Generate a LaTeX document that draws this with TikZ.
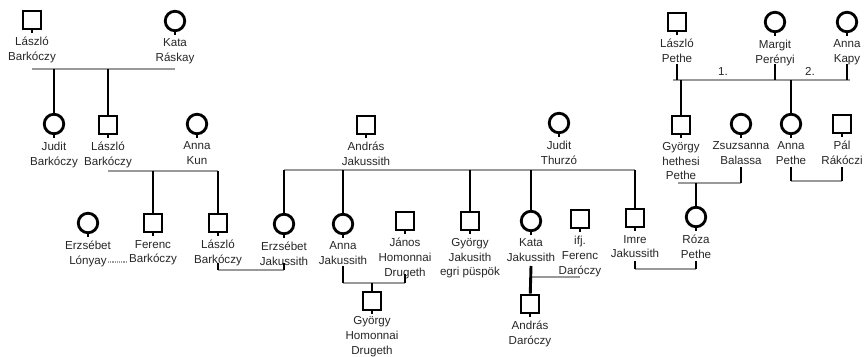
\documentclass[tikz,border=0pt]{standalone}
\usepackage{fontspec}
\setmainfont{Liberation Sans}
\usetikzlibrary{positioning,calc}

\begin{document}
\begin{tikzpicture}[x=1pt,y=-1pt,node distance=6.5pt,
    every node/.style={inner sep=0pt},
    stem/.style={append after command={(\tikzlastnode.south) edge[draw,line width=1.4pt] +(0,3)}},
    male/.style={draw,line width=2.8pt,minimum size=18pt,stem},
    female/.style={draw,circle,line width=2.8pt,minimum size=19.5pt,stem},
    persname/.style={align=center,font=\fontsize{11.6}{14.8}\selectfont,text=black!85,execute at begin node=\strut},
    desc/.style={line width=2.9pt},
    marr/.style={line width=2.4pt,black!40}]
    \useasboundingbox (0,0) rectangle (864,356);
    % first generation
    \node[male] (lb1) at (32,20) {};
    \node[persname,below=of lb1] (lb1n) {László\\Barkóczy};
    \node[female] (kr) at (175,21) {};
    \node[persname,below=of kr] (krn) {Kata\\Ráskay};
    \node[male] (lp) at (677,22) {};
    \node[persname,below=of lp] (lpn) {László\\Pethe};
    \node[female] (mp) at (775,22) {};
    \node[persname,below=of mp] (mpn) {Margit\\Perényi};
    \node[female] (akp) at (847,22) {};
    \node[persname,below=of akp] (akpn) {Anna\\Kapy};
    % second generation
    \node[female] (jb) at (54,124) {};
    \node[persname,below=of jb] (jbn) {Judit\\Barkóczy};
    \node[male] (lb2) at (108,125) {};
    \node[persname,below=of lb2] (lb2n) {László\\Barkóczy};
    \node[female] (ak) at (197,124) {};
    \node[persname,below=of ak] (akn) {Anna\\Kun};
    \node[male] (aj) at (366,125) {};
    \node[persname,below=of aj] (ajn) {András\\Jakussith};
    \node[female] (jt) at (559,123) {};
    \node[persname,below=of jt] (jtn) {Judit\\Thurzó};
    \node[male] (gp) at (681,125) {};
    \node[persname,below=of gp] (gpn) {György\\hethesi\\Pethe};
    \node[female] (zb) at (741,124) {};
    \node[persname,below=of zb] (zbn) {Zsuzsanna\\Balassa};
    \node[female] (ap) at (791,124) {};
    \node[persname,below=of ap] (apn) {Anna\\Pethe};
    \node[male] (pr) at (842,124) {};
    \node[persname,below=of pr] (prn) {Pál\\Rákóczi};
    % third generation
    \node[female] (el) at (88,223) {};
    \node[persname,below=of el] (eln) {Erzsébet\\Lónyay};
    \node[male] (fb) at (153,223) {};
    \node[persname,below=of fb] (fbn) {Ferenc\\Barkóczy};
    \node[male] (lb3) at (218,223) {};
    \node[persname,below=of lb3] (lb3n) {László\\Barkóczy};
    \node[female] (ej) at (284,224) {};
    \node[persname,below=of ej] (ejn) {Erzsébet\\Jakussith};
    \node[female] (anj) at (343,224) {};
    \node[persname,below=of anj] (anjn) {Anna\\Jakussith};
    \node[male] (jhd) at (405,221) {};
    \node[persname,below=of jhd] (jhdn) {János\\Homonnai\\Drugeth};
    \node[male] (gj) at (470,221) {};
    \node[persname,below=of gj] (gjn) {György\\Jakusith\\egri püspök};
    \node[female] (kj) at (531,221) {};
    \node[persname,below=of kj] (kjn) {Kata\\Jakussith};
    \node[male] (fd) at (580,219) {};
    \node[persname,below=of fd] (fdn) {ifj.\\Ferenc\\Daróczy};
    \node[male] (ij) at (635,218) {};
    \node[persname,below=of ij] (ijn) {Imre\\Jakussith};
    \node[female] (rp) at (696,217) {};
    \node[persname,below=of rp] (rpn) {Róza\\Pethe};
    % fourth generation
    \node[male] (ghd) at (372,301) {};
    \node[persname,below=5pt of ghd] (ghdn) {György\\Homonnai\\Drugeth};
    \node[male] (ad) at (530,304) {};
    \node[persname,below=of ad] (adn) {András\\Daróczy};

    % Barkóczy and Ráskay
    \coordinate (m1) at (0,69);
    \draw[marr] (lb1 |- m1) -- (kr |- m1);
    \draw[desc] (jb |- m1) -- (jb);
    \draw[desc] (lb2 |- m1) -- (lb2);
    % Barkóczy and Kun
    \coordinate (m2) at (0,171);
    \draw[marr] (lb2 |- m2) -- (lb3 |- m2);
    \draw[desc] (fb |- m2) -- (fb);
    \draw[desc] (lb3 |- m2) -- (lb3);
    % Jakussith and Thurzó
    \coordinate (m3) at (0,170);
    \draw[marr] (ej |- m3) -- (ij |- m3);
    \foreach \c in {ej,anj,gj,kj,ij}
        \draw[desc] (\c |- m3) -- (\c);
    % Pethe, Perényi and Kapy
    \coordinate (m4) at (0,80);
    \coordinate (t4) at (0,64);
    \draw[marr] ($(lp |- m4)+(-4,0)$) -- ($(akp |- m4)+(3,0)$);
    \foreach \c in {lp,mp,akp}
        \draw[desc] (\c |- t4) -- (\c |- m4);
    \node[persname] (one) at (723,73) {1.};
    \node[persname] (two) at (810,73) {2.};
    \draw[desc] (gp |- m4) -- (gp);
    \draw[desc] (ap |- m4) -- (ap);
    % Pethe and Balassa
    \coordinate (m5) at (0,183);
    \coordinate (t5) at (0,167);
    \draw[marr] ($(gp |- m5)+(-3,0)$) -- (zb |- m5);
    \draw[desc] (zb |- t5) -- (zb |- m5);
    \draw[desc] (rp |- m5) -- (rp);
    % Pethe and Rákóczi
    \coordinate (m6) at (0,181);
    \draw[marr] (ap |- m6) -- (pr |- m6);
    \draw[desc] (ap |- t5) -- (ap |- m6);
    \draw[desc] (pr |- t5) -- (pr |- m6);
    % Lónyay and Barkóczy
    \draw[marr,line width=1.2pt,densely dotted] ($(el |- 0,262)+(20,0)$) -- ($(fb |- 0,262)+(-26,0)$);
    % Barkóczy and Jakussith
    \coordinate (m7) at (0,270);
    \coordinate (t7) at (0,263);
    \draw[marr] (lb3 |- m7) -- (ej |- m7);
    \draw[desc] (lb3 |- t7) -- (lb3 |- m7);
    \draw[desc] (ej |- t7) -- (ej |- m7);
    % Jakussith and Homonnai Drugeth
    \coordinate (m8) at (0,283);
    \draw[marr] (anj |- m8) -- (jhd |- m8);
    \draw[desc] (anj |- 0,266) -- (anj |- m8);
    \draw[desc] (jhd |- 0,274) -- (jhd |- m8);
    \draw[desc] (ghd |- m8) -- (ghd);
    % Jakussith and Daróczy
    \coordinate (m9) at (0,277);
    \draw[marr] (kj |- m9) -- (fd |- m9);
    \draw[desc] (kj |- 0,266) -- (ad);
    % Jakussith and Pethe
    \coordinate (m10) at (0,269);
    \coordinate (t10) at (0,261);
    \draw[marr] (ij |- m10) -- (rp |- m10);
    \draw[desc] (ij |- t10) -- (ij |- m10);
    \draw[desc] (rp |- t10) -- (rp |- m10);
\end{tikzpicture}
\end{document}
